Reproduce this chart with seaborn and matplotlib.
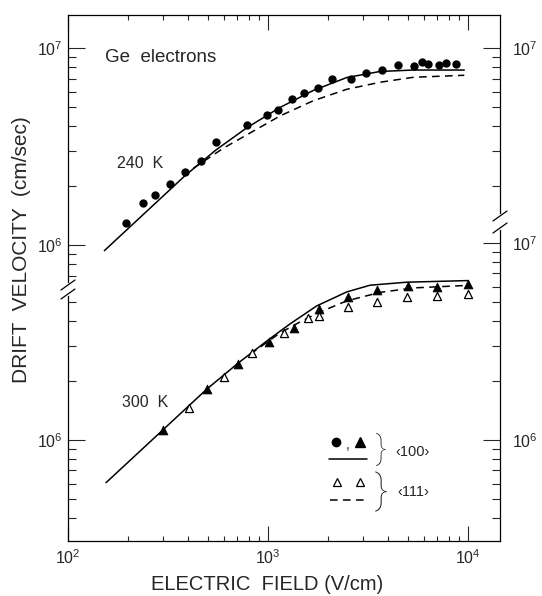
import seaborn as sns
import matplotlib.pyplot as plt
from matplotlib.ticker import FixedLocator, NullFormatter, LogFormatterSciNotation
from matplotlib.lines import Line2D

# ---- data ----
# 240 K, <100> measured points (filled circles)
field_240 = [196, 238, 273, 324, 383, 461, 550, 782, 993, 1117, 1314, 1514, 1771,
             2081, 2590, 3090, 3730, 4470, 5380, 5900, 6330, 7190, 7760, 8710]
vel_240 = [1.30e6, 1.64e6, 1.80e6, 2.04e6, 2.36e6, 2.68e6, 3.34e6, 4.06e6, 4.58e6,
           4.84e6, 5.49e6, 5.89e6, 6.29e6, 6.94e6, 6.94e6, 7.44e6, 7.71e6, 8.17e6,
           8.11e6, 8.50e6, 8.26e6, 8.23e6, 8.40e6, 8.30e6]

# 240 K calculated curves
calc_field_240_100 = [152, 385, 550, 782, 1148, 1685, 2475, 3631, 5328, 9583]
calc_vel_240_100 = [9.36e5, 2.25e6, 3.04e6, 3.93e6, 4.99e6, 6.09e6, 7.08e6, 7.60e6, 7.73e6, 7.73e6]
calc_field_240_111 = [423, 598, 1148, 1685, 2475, 3631, 5328, 9583]
calc_vel_240_111 = [2.45e6, 3.10e6, 4.52e6, 5.40e6, 6.17e6, 6.70e6, 7.10e6, 7.27e6]

# 300 K, <100> measured points (filled triangles)
field_300_100 = [300, 497, 711, 1012, 1349, 1800, 2502, 3493, 4990, 6970, 10000]
vel_300_100 = [1.12e6, 1.81e6, 2.43e6, 3.15e6, 3.69e6, 4.61e6, 5.30e6, 5.77e6, 6.05e6, 5.96e6, 6.19e6]

# 300 K, <111> measured points (open triangles)
field_300_111 = [403, 605, 835, 1202, 1590, 1800, 2502, 3493, 4930, 6970, 10000]
vel_300_111 = [1.46e6, 2.08e6, 2.75e6, 3.47e6, 4.15e6, 4.27e6, 4.72e6, 5.04e6, 5.33e6, 5.37e6, 5.50e6]

# 300 K calculated curves
calc_field_300_100 = [155, 494, 711, 1003, 1288, 1752, 2475, 3236, 4937, 10000]
calc_vel_300_100 = [6.07e5, 1.81e6, 2.46e6, 3.22e6, 3.88e6, 4.79e6, 5.64e6, 6.10e6, 6.32e6, 6.44e6]
calc_field_300_111 = [813, 1148, 1445, 1820, 2475, 3631, 5328, 10000]
calc_vel_300_111 = [2.72e6, 3.49e6, 3.97e6, 4.46e6, 5.08e6, 5.61e6, 5.91e6, 6.09e6]

x_label = "ELECTRIC  FIELD (V/cm)"
y_label = "DRIFT  VELOCITY  (cm/sec)"

W, H = 542, 596


def fx(x):
    return x / W


def fy(y):
    return 1 - y / H


def log_axis(ax, ylim, side, major, minor):
    ax.set_yscale("log")
    ax.set_ylim(*ylim)
    ax.yaxis.set_major_locator(FixedLocator(major))
    ax.yaxis.set_minor_locator(FixedLocator(minor))
    ax.yaxis.set_major_formatter(LogFormatterSciNotation())
    ax.yaxis.set_minor_formatter(NullFormatter())
    left = side == "left"
    ax.tick_params(axis="y", which="both", direction="in", left=left, right=not left,
                   labelleft=left, labelright=not left, labelsize=11.5, width=0.8)
    ax.tick_params(axis="y", which="major", length=12.5, pad=4 if left else 9)
    ax.tick_params(axis="y", which="minor", length=5.5)
    for s in ax.spines.values():
        s.set_visible(False)


def main():
    sns.set_theme(style="ticks")
    plt.rcParams["font.family"] = ["Liberation Sans", "DejaVu Sans"]
    plt.rcParams["mathtext.fontset"] = "custom"
    plt.rcParams["mathtext.rm"] = "Liberation Sans"
    plt.rcParams["mathtext.it"] = "Liberation Sans:italic"
    plt.rcParams["mathtext.bf"] = "Liberation Sans:bold"

    fig = plt.figure(figsize=(5.42, 5.96), dpi=100)
    rect = [fx(68), fy(541), (500 - 68) / W, (541 - 15) / H]
    ax = fig.add_axes(rect)
    ax.set_xscale("log")
    ax.set_yscale("log")
    ax.set_xlim(100, 10 ** 4.16)

    top_lim = (10 ** 4.4975, 10 ** 7.1675)
    bot_lim = (10 ** 5.487, 10 ** 8.157)
    dec = [2, 3, 4, 5, 6, 7, 8, 9]

    ax_r = ax.twinx()
    ax_b = ax.twinx()
    ax_br = ax.twinx()

    log_axis(ax, top_lim, "left", [1e6, 1e7], [7e5, 8e5, 9e5] + [d * 1e6 for d in dec])
    log_axis(ax_r, top_lim, "right", [1e7], [d * 1e6 for d in dec])
    log_axis(ax_b, bot_lim, "left", [1e6], [d * 1e5 for d in dec[2:]] + [d * 1e6 for d in dec[:4]])
    log_axis(ax_br, bot_lim, "right", [1e6, 1e7], [d * 1e5 for d in dec[2:]] + [d * 1e6 for d in dec])

    for s in ax.spines.values():
        s.set_visible(True)
        s.set_color("black")
        s.set_linewidth(0.9)

    ax.xaxis.set_major_locator(FixedLocator([1e2, 1e3, 1e4]))
    ax.xaxis.set_minor_locator(FixedLocator([d * 10 ** k for k in (2, 3) for d in dec]))
    ax.xaxis.set_major_formatter(LogFormatterSciNotation())
    ax.xaxis.set_minor_formatter(NullFormatter())
    ax.tick_params(axis="x", which="both", direction="in", top=True, bottom=True,
                   labelsize=11.5, width=0.8, pad=5)
    ax.tick_params(axis="x", which="major", length=10.5)
    ax.tick_params(axis="x", which="minor", length=3.8)

    # 240 K on the upper scale
    sns.lineplot(x=calc_field_240_100, y=calc_vel_240_100, ax=ax, color="black", lw=1.1)
    sns.lineplot(x=calc_field_240_111, y=calc_vel_240_111, ax=ax, color="black", lw=1.1,
                 linestyle=(0, (5, 3.5)))
    sns.scatterplot(x=field_240, y=vel_240, ax=ax, color="black", marker="o", s=36,
                    edgecolor="black", linewidth=0, zorder=4)

    # 300 K on the lower scale
    sns.lineplot(x=calc_field_300_100, y=calc_vel_300_100, ax=ax_b, color="black", lw=1.1)
    sns.lineplot(x=calc_field_300_111, y=calc_vel_300_111, ax=ax_b, color="black", lw=1.1,
                 linestyle=(0, (5, 3.5)))
    sns.scatterplot(x=field_300_100, y=vel_300_100, ax=ax_b, color="black", marker="^", s=40,
                    edgecolor="black", linewidth=0.6, zorder=4)
    sns.scatterplot(x=field_300_111, y=vel_300_111, ax=ax_b, color="white", marker="^", s=34,
                    edgecolor="black", linewidth=0.9, zorder=4)

    # axis breaks
    for (bx, y1, y2) in [(68, 285, 294), (500, 216, 228)]:
        fig.add_artist(Line2D([fx(bx), fx(bx)], [fy(y1), fy(y2)], color="white", lw=3, zorder=10))
        for by in (y1, y2):
            fig.add_artist(Line2D([fx(bx - 7), fx(bx + 7)], [fy(by + 5), fy(by - 5)],
                                  color="black", lw=0.9, zorder=11))

    # texts
    fig.text(fx(105), fy(62), "Ge  electrons", fontsize=13.5, va="baseline")
    fig.text(fx(117), fy(168), "240  K", fontsize=11.5, va="baseline")
    fig.text(fx(122), fy(407), "300  K", fontsize=11.5, va="baseline")
    fig.text(fx(267), fy(585), x_label, fontsize=14.5, ha="center", va="center")
    fig.text(fx(22), fy(250), y_label, fontsize=15, ha="center", va="center", rotation=90)

    # legend
    fig.add_artist(Line2D([fx(336)], [fy(442)], marker="o", ms=6, color="black", ls="none"))
    fig.text(fx(348), fy(449), ",", fontsize=10, ha="center", va="baseline")
    fig.add_artist(Line2D([fx(360)], [fy(442)], marker="^", ms=6.5, color="black", ls="none"))
    fig.add_artist(Line2D([fx(329), fx(367)], [fy(459), fy(459)], color="black", lw=1.1))
    fig.add_artist(Line2D([fx(337)], [fy(482)], marker="^", ms=6, mfc="white", mec="black",
                          mew=0.9, ls="none"))
    fig.add_artist(Line2D([fx(360)], [fy(482)], marker="^", ms=6, mfc="white", mec="black",
                          mew=0.9, ls="none"))
    fig.add_artist(Line2D([fx(330), fx(369)], [fy(500), fy(500)], color="black", lw=1.1,
                          ls=(0, (5, 3.5))))
    brace = dict(ha="center", va="center", family=["Roboto", "DejaVu Sans"], weight="light")
    fig.text(fx(381), fy(449), "}", fontsize=24, **brace)
    fig.text(fx(381), fy(492), "}", fontsize=29, **brace)
    fig.text(fx(413), fy(452), "‹100›", fontsize=10.5, ha="center", va="center")
    fig.text(fx(413), fy(492), "‹111›", fontsize=10.5, ha="center", va="center")

    fig.savefig("out.png", dpi=100)


if __name__ == "__main__":
    main()
